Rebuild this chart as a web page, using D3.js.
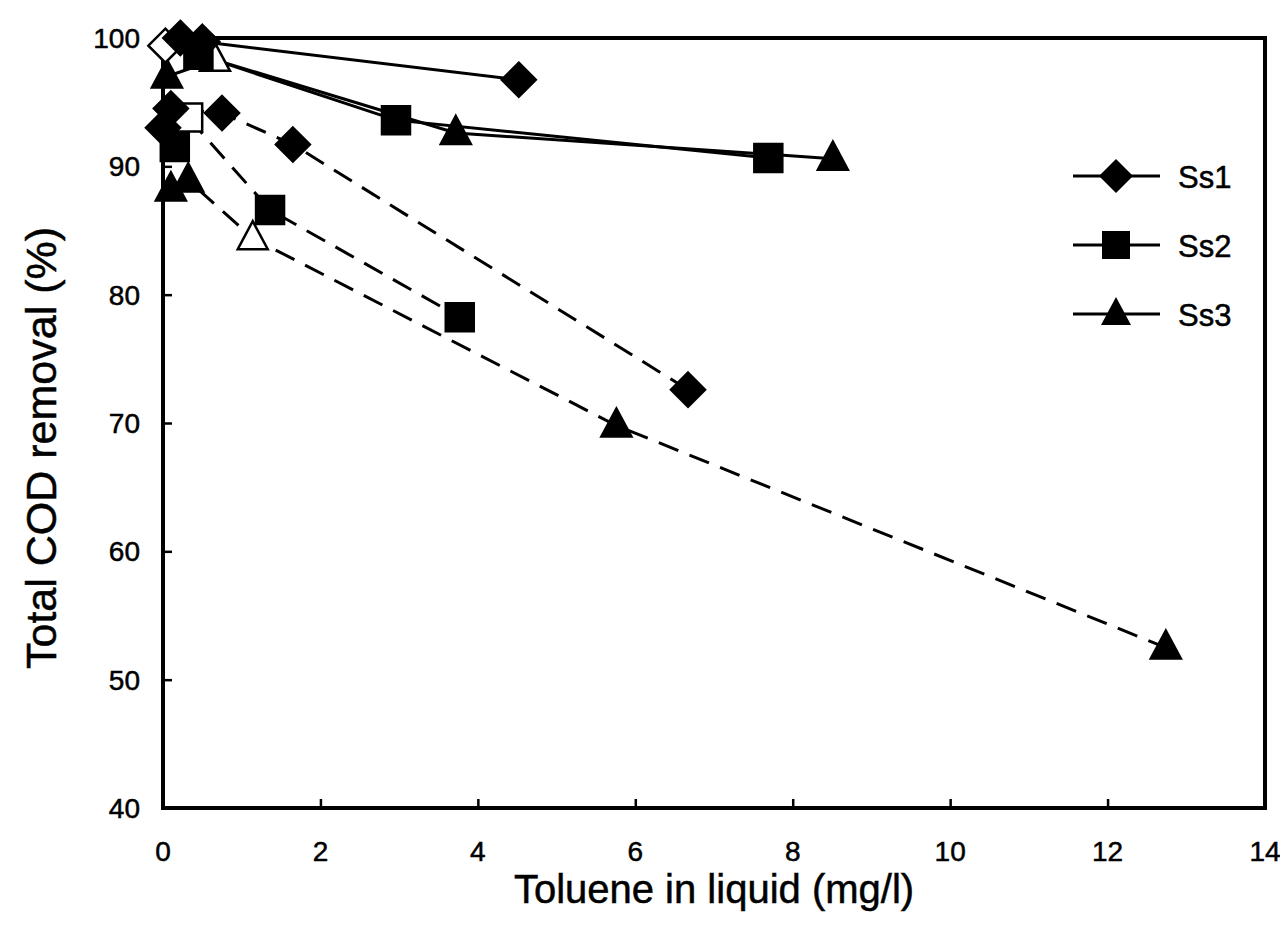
<!DOCTYPE html>
<html>
<head>
<meta charset="utf-8">
<script src="https://cdn.jsdelivr.net/npm/d3@7"></script>
<style>
  body { margin: 0; background: #fff; }
  text { font-family: "Liberation Sans", Arial, sans-serif; fill: #000; stroke: #000; stroke-width: 0.5; }
</style>
</head>
<body>
<div id="chart"></div>
<script>
// data: [x (mg/l), COD removal (%), open marker?]
var ss1_solid = [[0.03, 99.4, 1], [0.22, 100.0, 0], [0.5, 99.7, 0], [4.52, 96.75, 0]];
var ss2_solid = [[0.45, 98.7, 0], [2.96, 93.6, 0], [7.69, 90.65, 0]];
var ss3_solid = [[0.05, 97.0, 0], [0.66, 98.3, 1], [3.72, 92.6, 0], [8.51, 90.6, 0]];
var ss1_dash = [[0.0, 93.0, 0], [0.1, 94.5, 0], [0.75, 94.15, 0], [1.65, 91.7, 0], [6.67, 72.6, 0]];
var ss2_dash = [[0.15, 91.5, 0], [0.32, 93.8, 1], [1.36, 86.6, 0], [3.77, 78.25, 0]];
var ss3_dash = [[0.1, 88.2, 0], [0.32, 88.9, 0], [1.14, 84.4, 1], [5.76, 69.8, 0], [12.74, 52.5, 0]];

var x_ticks = [0, 2, 4, 6, 8, 10, 12, 14];
var y_ticks = [40, 50, 60, 70, 80, 90, 100];
var legend_names = ["Ss1", "Ss2", "Ss3"];

var series = [
    {pts: ss3_dash, shape: "triangle", dash: true},
    {pts: ss2_dash, shape: "square", dash: true},
    {pts: ss1_dash, shape: "diamond", dash: true},
    {pts: ss3_solid, shape: "triangle", dash: false},
    {pts: ss2_solid, shape: "square", dash: false},
    {pts: ss1_solid, shape: "diamond", dash: false}
];

var W = 1280, H = 945;
var svg = d3.select("#chart").append("svg")
    .attr("width", W).attr("height", H);

var scale_x = d3.scaleLinear().domain([0, 14]).range([163, 1265]);
var scale_y = d3.scaleLinear().domain([40, 100]).range([808, 38]);

function shape_path(shape) {
    if (shape == "diamond") return "M0,-17L17,0L0,17L-17,0Z";
    if (shape == "square") return "M-14,-14L14,-14L14,14L-14,14Z";
    return "M0,-17L15,11L-15,11Z";
}

// frame
svg.append("rect")
    .attr("x", scale_x(0)).attr("y", scale_y(100))
    .attr("width", scale_x(14) - scale_x(0))
    .attr("height", scale_y(40) - scale_y(100))
    .attr("fill", "none").attr("stroke", "#000").attr("stroke-width", 4);

// inward ticks
var xa = svg.append("g")
    .attr("transform", "translate(0," + scale_y(40) + ")")
    .call(d3.axisTop(scale_x).tickValues(x_ticks).tickSize(9).tickFormat(""));
var ya = svg.append("g")
    .attr("transform", "translate(" + scale_x(0) + ",0)")
    .call(d3.axisRight(scale_y).tickValues(y_ticks).tickSize(9).tickFormat(""));
[xa, ya].forEach(function(a) {
    a.select(".domain").remove();
    a.selectAll("line").attr("stroke", "#000").attr("stroke-width", 2.5);
});

// tick labels
svg.append("g").selectAll("text")
    .data(x_ticks).enter().append("text")
    .attr("x", function(d) { return scale_x(d); })
    .attr("y", 861)
    .attr("text-anchor", "middle")
    .attr("font-size", 28)
    .text(function(d) { return d; });

svg.append("g").selectAll("text")
    .data(y_ticks).enter().append("text")
    .attr("x", 140)
    .attr("y", function(d) { return scale_y(d) + 10; })
    .attr("text-anchor", "end")
    .attr("font-size", 28)
    .text(function(d) { return d; });

// axis titles
svg.append("text")
    .attr("x", 714).attr("y", 903)
    .attr("text-anchor", "middle")
    .attr("font-size", 40)
    .text("Toluene in liquid (mg/l)");

svg.append("text")
    .attr("transform", "translate(56,448) rotate(-90)")
    .attr("text-anchor", "middle")
    .attr("font-size", 43)
    .text("Total COD removal (%)");

// lines and markers
var line = d3.line()
    .x(function(d) { return scale_x(d[0]); })
    .y(function(d) { return scale_y(d[1]); });

series.forEach(function(s) {
    svg.append("path")
	.attr("d", line(s.pts))
	.attr("fill", "none")
	.attr("stroke", "#000")
	.attr("stroke-width", 3)
	.attr("stroke-dasharray", s.dash ? "21,12" : null);
});

series.forEach(function(s) {
    svg.append("g").selectAll("path")
	.data(s.pts).enter().append("path")
	.attr("transform", function(d) {
	    return "translate(" + scale_x(d[0]) + "," + scale_y(d[1]) + ")";
	})
	.attr("d", shape_path(s.shape))
	.attr("fill", function(d) { return d[2] ? "#fff" : "#000"; })
	.attr("stroke", "#000")
	.attr("stroke-width", 2.5);
});

// legend
var shapes = ["diamond", "square", "triangle"];
var leg = svg.append("g").selectAll("g")
    .data(legend_names).enter().append("g")
    .attr("transform", function(d, i) { return "translate(0," + (176 + i * 69) + ")"; });
leg.append("line")
    .attr("x1", 1073).attr("x2", 1160)
    .attr("stroke", "#000").attr("stroke-width", 3);
leg.append("path")
    .attr("transform", "translate(1116,0)")
    .attr("d", function(d, i) { return shape_path(shapes[i]); })
    .attr("fill", "#000");
leg.append("text")
    .attr("x", 1178).attr("y", 12)
    .attr("font-size", 31)
    .text(function(d) { return d; });
</script>
</body>
</html>
